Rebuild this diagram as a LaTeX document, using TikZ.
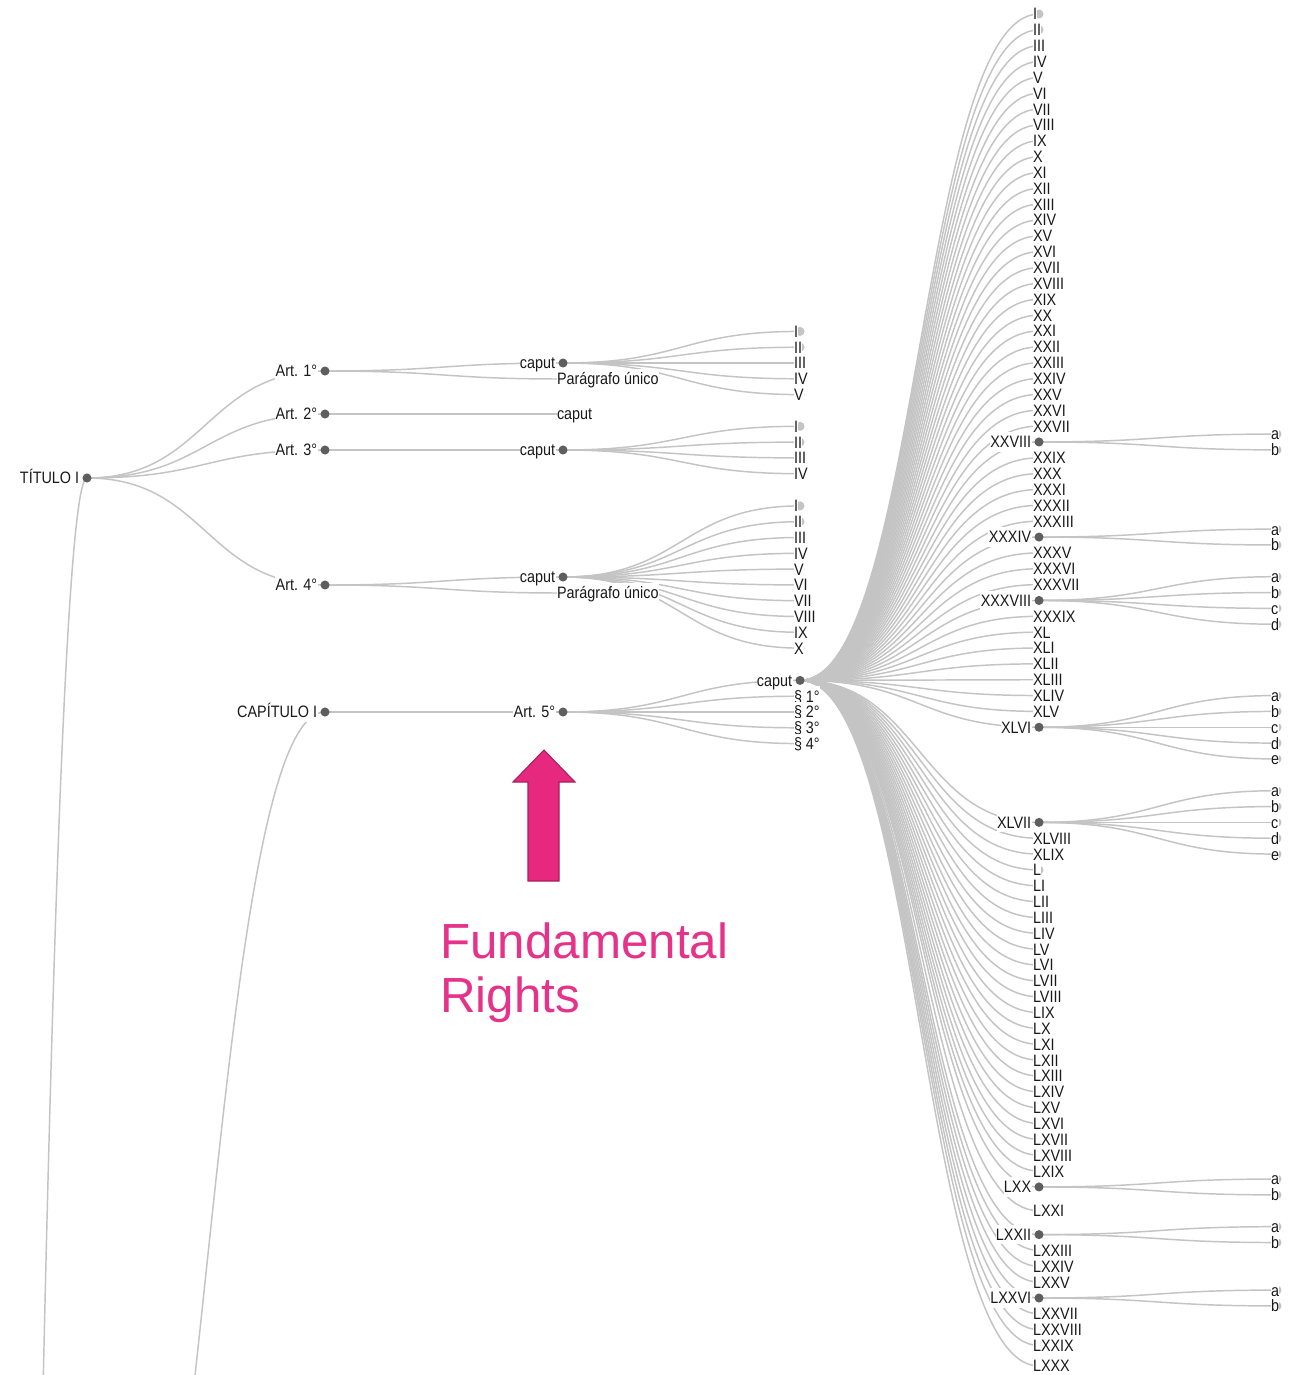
\documentclass[tikz,border=0pt]{standalone}
\usepackage{fontspec}
\setmainfont{Liberation Sans}
\newfontfamily\treefont{Liberation Sans}[FakeStretch=0.87]
\usetikzlibrary{calc}
\pgfdeclarelayer{background}
\pgfsetlayers{background,main}
\definecolor{linkgray}{HTML}{C4C4C4}
\definecolor{dotgray}{HTML}{5E5E5E}
\definecolor{leafgray}{HTML}{C4C4C4}
\definecolor{textdark}{HTML}{1A1A1A}
\definecolor{pinkfill}{HTML}{E6297F}
\definecolor{pinkedge}{HTML}{A91E5E}
\definecolor{pinktext}{HTML}{E6338A}
\newcommand\diag[2]{\draw[link] let \p1=(#1.center), \p2=(#2.center) in (\p1) .. controls ({0.5*\x1+0.5*\x2},\y1) and ({0.5*\x1+0.5*\x2},\y2) .. (\p2);}
\newcommand\setromy[1]{\pgfmathsetmacro\yy{(#1)<47 ? 14+((#1)-1)*15.85 : ((#1)<71 ? 822.4+((#1)-47)*15.85 : ((#1)<72 ? 1210.8 : ((#1)<80 ? 1234.6+((#1)-72)*15.85 : 1366)))}}
\begin{document}
\begin{tikzpicture}[x=0.75pt,y=-0.75pt,
  link/.style={draw=linkgray,line width=1.1pt},
  dotI/.style={circle,fill=dotgray,inner sep=0pt,minimum size=6.8pt},
  dotL/.style={circle,fill=leafgray,inner sep=0pt,minimum size=6.8pt},
  lab/.style={font=\treefont\fontsize{12.4}{14}\selectfont,text=textdark,fill=white,inner sep=0.3pt,text height=11.5pt,text depth=2.6pt},
  nI/.style={dotI,label={[lab,xshift=-1.8pt]left:#1}},
  nL/.style={dotL,label={[lab,xshift=-8.6pt]right:#1}},
  pinklabel/.style={font=\fontsize{37}{40}\selectfont,text=pinktext,anchor=base west,inner sep=0pt}]
\useasboundingbox (0,0) rectangle (1304,1375);
\clip (0,0) rectangle (1304,1375);
% level 0 / 1
\node[nI=TÍTULO I] (T1) at (87,478) {};
\coordinate (rootA) at (27.98,2227.5);
\coordinate (T2) at (87,1834);
\node[nI=Art. 1°] (A1) at (325,371) {};
\node[nI=Art. 2°] (A2) at (325,414) {};
\node[nI=Art. 3°] (A3) at (325,450) {};
\node[nI=Art. 4°] (A4) at (325,585) {};
\node[nI=CAPÍTULO I] (C1) at (325,712) {};
% level 2
\node[nI=caput] (a1c) at (563,363) {};
\node[nL=Parágrafo único] (a1p) at (563,379) {};
\node[nL=caput] (a2c) at (563,414) {};
\node[nI=caput] (a3c) at (563,450) {};
\node[nI=caput] (a4c) at (563,577) {};
\node[nL=Parágrafo único] (a4p) at (563,593) {};
\node[nI=Art. 5°] (a5) at (563,712) {};
% level 3
\foreach \j/\rn in {1/I,2/II,3/III,4/IV,5/V}{
  \pgfmathsetmacro\cy{363+(\j-3)*15.8}
  \node[nL=\rn] (a1c\j) at (800,\cy) {};}
\foreach \j/\rn in {1/I,2/II,3/III,4/IV}{
  \pgfmathsetmacro\cy{450+(\j-2.5)*15.8}
  \node[nL=\rn] (a3c\j) at (800,\cy) {};}
\foreach \j/\rn in {1/I,2/II,3/III,4/IV,5/V,6/VI,7/VII,8/VIII,9/IX,10/X}{
  \pgfmathsetmacro\cy{577+(\j-5.5)*15.8}
  \node[nL=\rn] (a4c\j) at (800,\cy) {};}
\node[nI=caput] (a5c) at (800,680.4) {};
\node[nL=§ 1°] (s1) at (800,696.2) {};
\node[nL=§ 2°] (s2) at (800,712) {};
\node[nL=§ 3°] (s3) at (800,727.8) {};
\node[nL=§ 4°] (s4) at (800,743.6) {};
% level 4 : incisos of Art. 5
\foreach \kk/\rn in {1/I,2/II,3/III,4/IV,5/V,6/VI,7/VII,8/VIII,9/IX,10/X,11/XI,12/XII,13/XIII,14/XIV,15/XV,16/XVI,17/XVII,18/XVIII,19/XIX,20/XX,21/XXI,22/XXII,23/XXIII,24/XXIV,25/XXV,26/XXVI,27/XXVII,29/XXIX,30/XXX,31/XXXI,32/XXXII,33/XXXIII,35/XXXV,36/XXXVI,37/XXXVII,39/XXXIX,40/XL,41/XLI,42/XLII,43/XLIII,44/XLIV,45/XLV,48/XLVIII,49/XLIX,50/L,51/LI,52/LII,53/LIII,54/LIV,55/LV,56/LVI,57/LVII,58/LVIII,59/LIX,60/LX,61/LXI,62/LXII,63/LXIII,64/LXIV,65/LXV,66/LXVI,67/LXVII,68/LXVIII,69/LXIX,71/LXXI,73/LXXIII,74/LXXIV,75/LXXV,77/LXXVII,78/LXXVIII,79/LXXIX,80/LXXX}{
  \setromy{\kk}
  \node[nL=\rn] (r\kk) at (1039,\yy) {};}
\foreach \kk/\rn in {28/XXVIII,34/XXXIV,38/XXXVIII,46/XLVI,47/XLVII,70/LXX,72/LXXII,76/LXXVI}{
  \setromy{\kk}
  \node[nI=\rn] (r\kk) at (1039,\yy) {};}
% level 5 : alineas
\foreach \q/\m in {28/2,34/2,38/4,46/5,47/5,70/2,72/2,76/2}{
  \foreach \j/\lt in {1/a,2/b,3/c,4/d,5/e}{
    \ifnum\j>\m\relax\else
      \setromy{\q}
      \pgfmathsetmacro\cy{\yy+(\j-(\m+1)/2)*15.85}
      \node[nL=\lt] (c\q\lt) at (1277,\cy) {};
    \fi}}
% links
\begin{pgfonlayer}{background}
\fill[white] (0,0) rectangle (1304,1375);
\clip (0,0) rectangle (1304,1375);
\draw[link] (rootA) .. controls (44.16,1150.9) and (63.2,478) .. (T1.center);
\diag{T2}{C1}
\foreach \t in {A1,A2,A3,A4}{\diag{T1}{\t}}
\diag{A1}{a1c}\diag{A1}{a1p}
\diag{A2}{a2c}
\diag{A3}{a3c}
\diag{A4}{a4c}\diag{A4}{a4p}
\diag{C1}{a5}
\foreach \j in {1,...,5}{\diag{a1c}{a1c\j}}
\foreach \j in {1,...,4}{\diag{a3c}{a3c\j}}
\foreach \j in {1,...,10}{\diag{a4c}{a4c\j}}
\foreach \t in {a5c,s1,s2,s3,s4}{\diag{a5}{\t}}
\foreach \kk in {1,...,80}{\diag{a5c}{r\kk}}
\foreach \q/\m in {28/2,34/2,38/4,46/5,47/5,70/2,72/2,76/2}{
  \foreach \j/\lt in {1/a,2/b,3/c,4/d,5/e}{
    \ifnum\j>\m\relax\else \diag{r\q}{c\q\lt}\fi}}
\end{pgfonlayer}
% annotation
\filldraw[fill=pinkfill,draw=pinkedge,line width=0.8pt] (528,881) -- (528,782) -- (513,782) -- (544,750) -- (575,782) -- (559,782) -- (559,881) -- cycle;
\node[pinklabel] (fr1) at (440,958) {Fundamental};
\node[pinklabel] (fr2) at (440,1012) {Rights};
\end{tikzpicture}
\end{document}
